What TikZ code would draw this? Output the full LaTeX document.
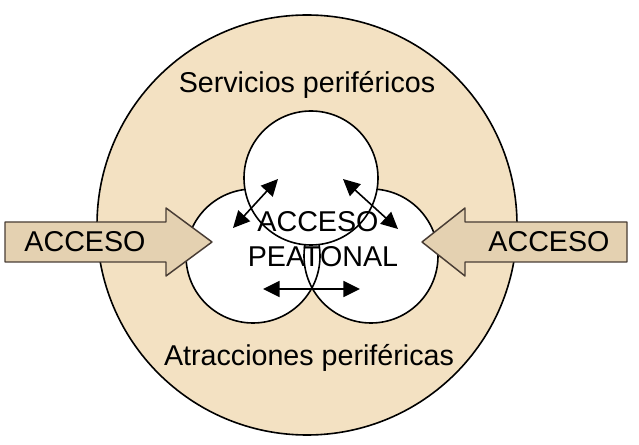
\documentclass[tikz,border=0pt]{standalone}
\usepackage{fontspec}
\setmainfont{Liberation Sans}
\usetikzlibrary{arrows.meta}
\definecolor{campo}{RGB}{243,225,194}
\definecolor{flecha}{RGB}{228,209,177}
\definecolor{borde}{RGB}{72,60,52}
\begin{document}
\begin{tikzpicture}[x=0.75pt, y=-0.75pt, line cap=round, line join=round,
    rotulo/.style={font=\fontsize{21.5}{26}\selectfont, inner sep=0pt, anchor=base},
    zona/.style={circle, fill=white, minimum size=100.5pt, inner sep=0pt},
    acceso/.style={draw=borde, fill=flecha, line width=1.1pt},
    flujo/.style={{Triangle[length=12.5pt,width=12pt]}-{Triangle[length=12.5pt,width=12pt]}, line width=1.2pt}]
  \useasboundingbox (0,0) rectangle (639,445);
  \node[circle, draw, fill=campo, line width=1.2pt, minimum size=315pt, inner sep=0pt] (anillo) at (307,225) {};
  \node[zona] (izq) at (253,256) {};
  \node[zona] (der) at (371,256) {};
  \draw[line width=1.2pt] (izq.center) circle[radius=67] (der.center) circle[radius=67];
  \node[zona, draw, line width=1.2pt] (arriba) at (311,178) {};
  \draw[acceso] (5,222) -- (166,222) -- (166,208) -- (212,242) -- (166,276) -- (166,262) -- (5,262) -- cycle;
  \draw[acceso] (627,222) -- (465,222) -- (465,208) -- (422,242) -- (465,276) -- (465,262) -- (627,262) -- cycle;
  \node[rotulo] (accizq) at (85,252) {ACCESO};
  \node[rotulo] (accder) at (549,252) {ACCESO};
  \coordinate (a1) at (233,228);
  \coordinate (a2) at (278,179);
  \coordinate (b1) at (343,179);
  \coordinate (b2) at (398,229);
  \coordinate (c1) at (263,289);
  \coordinate (c2) at (360,289);
  \draw[flujo] (a1) -- (a2);
  \draw[flujo] (b1) -- (b2);
  \draw[flujo] (c1) -- (c2);
  \node[rotulo] (peaton1) at (318,232) {ACCESO};
  \node[rotulo] (peaton2) at (323,267) {PEATONAL};
  \node[rotulo] (servicios) at (307,93) {Servicios periféricos};
  \node[rotulo] (atracciones) at (309,365) {Atracciones periféricas};
\end{tikzpicture}
\end{document}
